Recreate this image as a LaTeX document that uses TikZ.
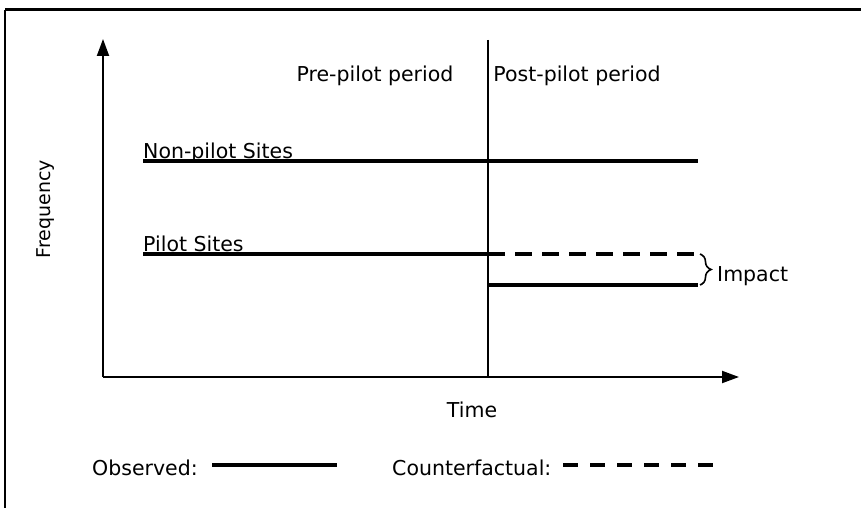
\documentclass[tikz,border=0pt]{standalone}
\usepackage{fontspec}
\setmainfont{DejaVu Sans}
\usetikzlibrary{arrows.meta,decorations.pathreplacing}
\begin{document}
\begin{tikzpicture}[x=1pt,y=-1pt,
  lbl/.style={inner sep=0pt,font=\fontsize{20.5}{24}\selectfont},
  axis/.style={line width=2pt,-{Triangle[length=17pt,width=12pt]}},
  obs/.style={line width=3.8pt},
  cf/.style={line width=3.8pt,dash pattern=on 17pt off 10pt},
  legcf/.style={line width=3.8pt,dash pattern=on 15pt off 12pt}]
\useasboundingbox (0,0) rectangle (861,508);
% frame
\draw[line width=3pt] (5,10) -- (861,10);
\draw[line width=1.8pt] (5,10) -- (5,508);
% axes and period divider
\coordinate (O) at (103,377);
\coordinate (ytop) at (103,39);
\coordinate (xend) at (739,377);
\coordinate (dtop) at (488,40);
\coordinate (dbot) at (488,377);
\draw[axis] (O) -- (ytop);
\draw[axis] (O) -- (xend);
\draw[line width=2pt] (dtop) -- (dbot);
% period labels
\node[lbl] (pre) at (375,76) {Pre-pilot period};
\node[lbl] (post) at (577,76) {Post-pilot period};
% series
\coordinate (np1) at (143,161);
\coordinate (np2) at (698,161);
\coordinate (p1) at (143,254);
\coordinate (p2) at (488,254);
\coordinate (c2) at (698,254);
\coordinate (a1) at (488,285);
\coordinate (a2) at (698,285);
\draw[obs] (np1) -- (np2);
\draw[obs] (p1) -- (p2);
\draw[cf] (p2) -- (c2);
\draw[obs] (a1) -- (a2);
\node[lbl,anchor=base west] (nplbl) at (143,158) {Non-pilot Sites};
\node[lbl,anchor=base west] (plbl) at (143,251) {Pilot Sites};
% impact brace
\draw[line width=1.6pt,decorate,decoration={brace,amplitude=11pt}]
  (700,254) -- (700,285) coordinate[pos=0.5] (bmid);
\node[lbl,anchor=west] (impact) at (717,276) {Impact};
% axis titles
\node[lbl,rotate=90,font=\fontsize{19}{22}\selectfont] (freq) at (46,209) {Frequency};
\node[lbl] (time) at (472,410) {Time};
% legend
\node[lbl,anchor=base west] (legobs) at (92,475) {Observed:};
\coordinate (lo1) at (212,465);
\coordinate (lo2) at (337,465);
\draw[obs] (lo1) -- (lo2);
\node[lbl,anchor=base west] (legcf) at (392,475) {Counterfactual:};
\coordinate (lc1) at (563,465);
\coordinate (lc2) at (720,465);
\draw[legcf] (lc1) -- (lc2);
\end{tikzpicture}
\end{document}
